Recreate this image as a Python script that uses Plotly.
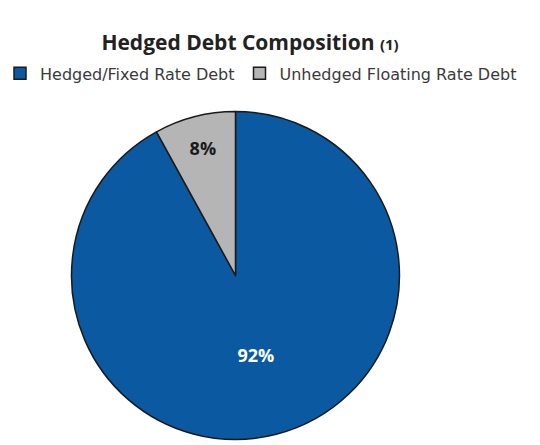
import plotly.graph_objects as go

labels = ["Hedged/Fixed Rate Debt", "Unhedged Floating Rate Debt"]
values = [92, 8]
colors = ["#0A59A1", "#B5B5B5"]
text_colors = ["white", "#1a1a1a"]

fig = go.Figure(go.Pie(
    labels=labels, values=values, sort=False, direction="clockwise", rotation=0,
    marker=dict(colors=colors, line=dict(color="#1a1a1a", width=1.5)),
    textinfo="percent", texttemplate="<b>%{percent:.0%}</b>",
    textposition="inside", insidetextorientation="horizontal",
    textfont=dict(family="Open Sans", size=18, color=text_colors),
    domain=dict(x=[0.1324, 0.7398], y=[0.0124, 0.7494]),
    hoverinfo="skip",
))

fig.update_layout(
    width=540, height=445, margin=dict(l=0, r=0, t=0, b=0),
    paper_bgcolor="white", plot_bgcolor="white",
    title=dict(text="<b>Hedged Debt Composition <span style='font-size:15px'>(1)</span></b>",
               x=0.463, xanchor="center", y=0.905, yanchor="middle",
               font=dict(family="Open Sans", size=21, color="#222")),
    legend=dict(orientation="h", x=0, xanchor="left", y=0.835, yanchor="middle",
                font=dict(family="DejaVu Sans", size=16, color="#3a3a3a"),
                itemwidth=30, tracegroupgap=0),
    showlegend=True,
)

fig.write_html("out.html")
